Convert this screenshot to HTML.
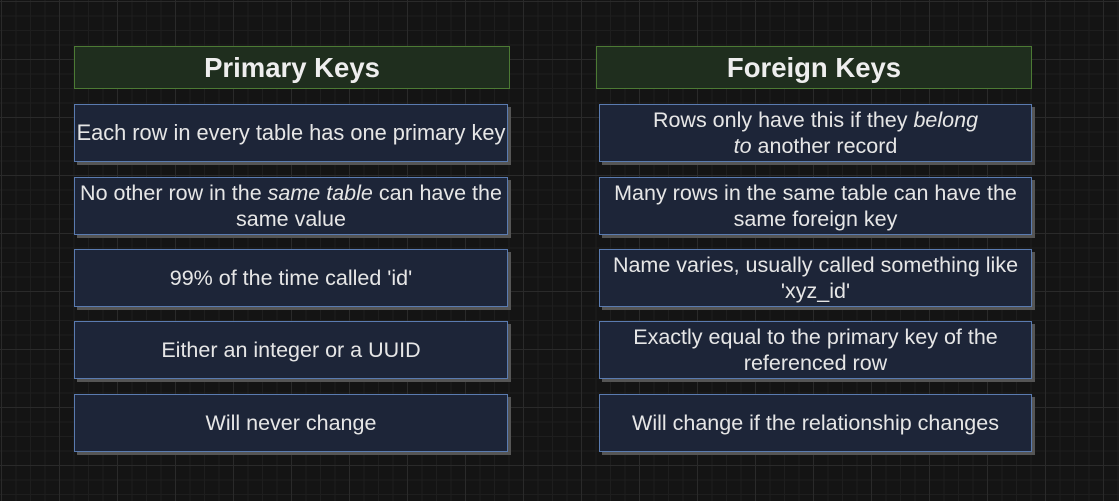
<!DOCTYPE html>
<html><head><style>
body{margin:0;width:1119px;height:501px;overflow:hidden;background:#141414;
background-image:linear-gradient(#2a2a2a 1px,transparent 1px),linear-gradient(90deg,#2a2a2a 1px,transparent 1px),linear-gradient(#1e1e1e 1px,transparent 1px),linear-gradient(90deg,#1e1e1e 1px,transparent 1px);
background-size:58px 58px,58px 58px,14.5px 14.5px,14.5px 14.5px;background-position:1px 1px;
font-family:"Liberation Sans",Arial,sans-serif;position:relative}
.h{position:absolute;height:43px;background:#1f2e1e;border:1px solid #4c7a34;color:#eee;font-weight:bold;font-size:27.5px;display:flex;align-items:center;justify-content:center;box-sizing:border-box}
.b{position:absolute;height:58px;background:#1d2538;border:1px solid #5a7bb0;color:#e6e6e6;font-size:21.5px;display:flex;align-items:center;justify-content:center;text-align:center;box-sizing:border-box;box-shadow:3px 3px 0 #555;line-height:26px;padding:0 1px}
</style></head><body>
<div class="h" style="left:74px;top:46px;width:436px">Primary Keys</div>
<div class="h" style="left:596px;top:46px;width:436px">Foreign Keys</div>
<div class="b" style="left:74px;top:104px;width:434px;font-size:21.8px;white-space:nowrap"><span>Each row in every table has one primary key</span></div>
<div class="b" style="left:74px;top:177px;width:434px"><span>No other row in the <i>same table</i> can have the same value</span></div>
<div class="b" style="left:74px;top:249px;width:434px"><span>99% of the time called 'id'</span></div>
<div class="b" style="left:74px;top:321px;width:434px"><span>Either an integer or a UUID</span></div>
<div class="b" style="left:74px;top:394px;width:434px"><span>Will never change</span></div>
<div class="b" style="left:599px;top:104px;width:433px"><span>Rows only have this if they <i>belong<br>to</i> another record</span></div>
<div class="b" style="left:599px;top:177px;width:433px"><span>Many rows in the same table can have the<br>same foreign key</span></div>
<div class="b" style="left:599px;top:249px;width:433px"><span>Name varies, usually called something like<br>'xyz_id'</span></div>
<div class="b" style="left:599px;top:321px;width:433px"><span>Exactly equal to the primary key of the<br>referenced row</span></div>
<div class="b" style="left:599px;top:394px;width:433px"><span>Will change if the relationship changes</span></div>
</body></html>
